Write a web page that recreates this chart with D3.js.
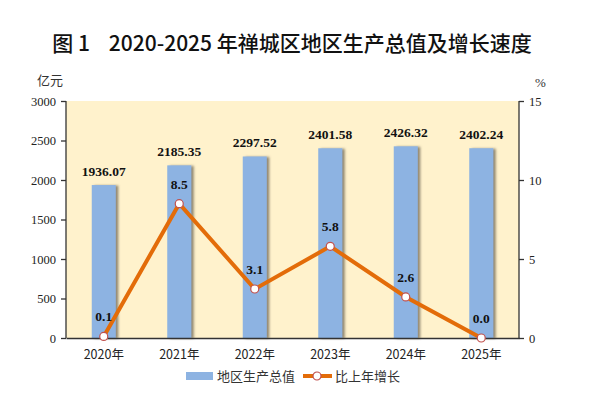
<!DOCTYPE html>
<html>
<head>
<meta charset="utf-8">
<script src="https://cdn.jsdelivr.net/npm/d3@7"></script>
<style>
  body { margin: 0; background: #fff; }
</style>
</head>
<body>
<script>
// data
var years = ["2020年", "2021年", "2022年", "2023年", "2024年", "2025年"];
var gdp = [1936.07, 2185.35, 2297.52, 2401.58, 2426.32, 2402.24];
var growth = [0.1, 8.5, 3.1, 5.8, 2.6, 0.0];
var leftTicks = [0, 500, 1000, 1500, 2000, 2500, 3000];
var rightTicks = [0, 5, 10, 15];

// setup
var margin = { top: 101, bottom: 64, left: 66, right: 78 };
var width = 597 - margin.left - margin.right;
var height = 402 - margin.top - margin.bottom;

var svg = d3.select("body")
    .append("svg")
    .attr("width", 597)
    .attr("height", 402);

var defs = svg.append("defs");
var f = defs.append("filter").attr("id", "shadow")
    .attr("x", "-20%").attr("y", "-5%").attr("width", "150%").attr("height", "110%");
f.append("feDropShadow")
    .attr("dx", 2.5).attr("dy", 0.5).attr("stdDeviation", 1)
    .attr("flood-color", "#6b6452").attr("flood-opacity", 0.75);

// title
svg.append("text")
    .attr("x", 292).attr("y", 51)
    .attr("text-anchor", "middle")
    .style("font-family", "'Noto Sans CJK SC'")
    .style("font-weight", 500)
    .style("font-size", "21px")
    .attr("fill", "#111")
    .text("图 1\u00a0\u00a0\u00a0 2020-2025 年禅城区地区生产总值及增长速度");

var g = svg.append("g")
    .attr("transform", "translate(" + margin.left + "," + margin.top + ")");

// background
g.append("rect")
    .attr("width", width).attr("height", height)
    .attr("fill", "#FFF2CC");

var x = d3.scaleBand().domain(years).range([0, width]);
var y = d3.scaleLinear().domain([0, 3000]).range([height, 0]);
var y2 = d3.scaleLinear().domain([0, 15]).range([height, 0]);

var barW = 24;

// bars
g.selectAll(".bar")
    .data(gdp)
    .enter().append("rect")
    .attr("x", function (d, i) { return x(years[i]) + x.bandwidth() / 2 - barW / 2; })
    .attr("y", function (d) { return y(d); })
    .attr("width", barW)
    .attr("height", function (d) { return height - y(d); })
    .attr("fill", "#8DB3E2")
    .attr("filter", "url(#shadow)");

// bar labels
g.selectAll(".blabel")
    .data(gdp)
    .enter().append("text")
    .attr("x", function (d, i) { return x(years[i]) + x.bandwidth() / 2; })
    .attr("y", function (d) { return y(d) - 9; })
    .attr("text-anchor", "middle")
    .style("font-family", "'Liberation Serif'")
    .style("font-weight", "bold")
    .style("font-size", "13.5px")
    .attr("fill", "#111")
    .text(function (d) { return d.toFixed(2); });

// axes
var leftAxis = d3.axisLeft(y).tickValues(leftTicks).tickFormat(d3.format("d")).tickSize(5).tickPadding(5);
var rightAxis = d3.axisRight(y2).tickValues(rightTicks).tickFormat(d3.format("d")).tickSize(5).tickPadding(5);
var bottomAxis = d3.axisBottom(x).tickSize(0).tickPadding(12);

function styleAxis(sel) {
    sel.attr("font-family", null);
    sel.selectAll("path, line").attr("stroke", "#333").attr("stroke-width", 1.3);
    sel.selectAll("text")
        .attr("fill", "#222")
        .style("font-family", "'Liberation Serif', serif")
        .style("font-size", "12.5px");
}

var la = g.append("g").call(leftAxis);
la.select(".domain").attr("d", "M0," + height + "V0");
styleAxis(la);

var ra = g.append("g").attr("transform", "translate(" + width + ",0)").call(rightAxis);
ra.select(".domain").attr("d", "M0," + height + "V0");
styleAxis(ra);

var ba = g.append("g").attr("transform", "translate(0," + height + ")").call(bottomAxis);
styleAxis(ba);
ba.selectAll("text")
    .style("font-family", "'Noto Sans CJK SC'")
    .style("font-size", "12.5px");

// units
svg.append("text").attr("x", 37).attr("y", 85)
    .style("font-family", "'Noto Sans CJK SC'").style("font-size", "13px")
    .attr("fill", "#333").text("亿元");
svg.append("text").attr("x", 535).attr("y", 87)
    .style("font-family", "'Liberation Serif', serif").style("font-size", "13px")
    .attr("fill", "#333").text("%");

// line
var line = d3.line()
    .x(function (d, i) { return x(years[i]) + x.bandwidth() / 2; })
    .y(function (d) { return y2(d); });

g.append("path")
    .datum(growth)
    .attr("fill", "none")
    .attr("stroke", "#E36C09")
    .attr("stroke-width", 4)
    .attr("d", line);

g.selectAll(".dot")
    .data(growth)
    .enter().append("circle")
    .attr("cx", function (d, i) { return x(years[i]) + x.bandwidth() / 2; })
    .attr("cy", function (d) { return y2(d); })
    .attr("r", 4)
    .attr("fill", "#fff")
    .attr("stroke", "#C0504D")
    .attr("stroke-width", 1.2);

g.selectAll(".glabel")
    .data(growth)
    .enter().append("text")
    .attr("x", function (d, i) { return x(years[i]) + x.bandwidth() / 2; })
    .attr("y", function (d) { return y2(d) - 15; })
    .attr("text-anchor", "middle")
    .style("font-family", "'Liberation Serif'")
    .style("font-weight", "bold")
    .style("font-size", "13.5px")
    .attr("fill", "#111")
    .text(function (d) { return d.toFixed(1); });

// legend
var lg = svg.append("g").attr("transform", "translate(186,376)");
lg.append("rect").attr("x", 0).attr("y", -4).attr("width", 27).attr("height", 8).attr("fill", "#8DB3E2");
lg.append("text").attr("x", 31).attr("y", 5)
    .style("font-family", "'Noto Sans CJK SC'").style("font-size", "13px")
    .attr("fill", "#333").text("地区生产总值");
lg.append("line").attr("x1", 117).attr("x2", 146).attr("y1", 0).attr("y2", 0)
    .attr("stroke", "#E36C09").attr("stroke-width", 4);
lg.append("circle").attr("cx", 131).attr("cy", 0).attr("r", 4)
    .attr("fill", "#fff").attr("stroke", "#C0504D").attr("stroke-width", 1.2);
lg.append("text").attr("x", 149).attr("y", 5)
    .style("font-family", "'Noto Sans CJK SC'").style("font-size", "13px")
    .attr("fill", "#333").text("比上年增长");
</script>
</body>
</html>
